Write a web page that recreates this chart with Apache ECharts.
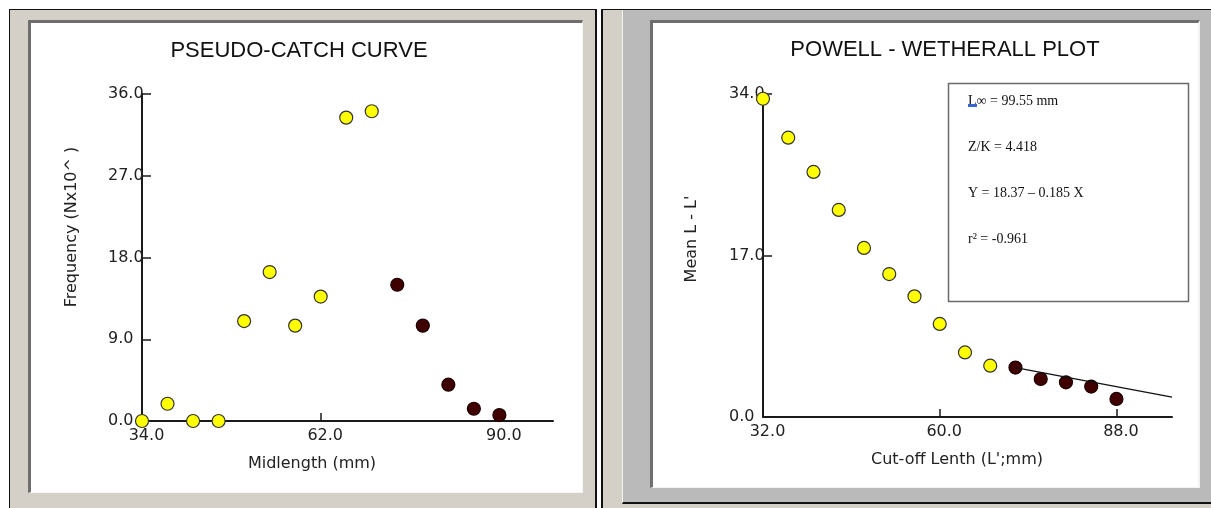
<!DOCTYPE html>
<html>
<head>
<meta charset="utf-8">
<title>Pseudo-catch curve and Powell-Wetherall plot</title>
<script src="https://cdn.jsdelivr.net/npm/echarts@6/dist/echarts.min.js"></script>
<style>
  html, body { margin: 0; padding: 0; background: #fff; width: 1211px; height: 508px; overflow: hidden; position: relative; }
  .box { position: absolute; box-sizing: border-box; }
  /* left window frame */
  #lp { left: 9px; top: 9px; width: 588px; height: 499px; background: #d4d0c8;
        border-left: 1px solid #111; border-top: 1px solid #111; border-right: 2px solid #111; }
  #lw { left: 28px; top: 20px; width: 555px; height: 473px; background: #fff;
        border-left: 3px solid #6e6e6e; border-top: 3px solid #6e6e6e;
        border-right: 1px solid #f6f6f6; border-bottom: 1px solid #f6f6f6; }
  /* right window frame */
  #rp { left: 601px; top: 9px; width: 610px; height: 499px; background: #d4d0c8;
        border-left: 2px solid #111; border-top: 1px solid #111; }
  #rg { left: 622px; top: 10px; width: 589px; height: 494px; background: #bababa;
        border-left: 1px solid #f2f2f2; border-bottom: 2px solid #111; }
  #rw { left: 650px; top: 20px; width: 550px; height: 468px; background: #fff;
        border-left: 3px solid #6e6e6e; border-top: 3px solid #6e6e6e;
        border-right: 2px solid #f2f2f2; border-bottom: 1px solid #f2f2f2; }
  #chart { position: absolute; left: 0; top: 0; width: 1211px; height: 508px; }
</style>
</head>
<body>
<div class="box" id="lp"></div>
<div class="box" id="lw"></div>
<div class="box" id="rp"></div>
<div class="box" id="rg"></div>
<div class="box" id="rw"></div>
<div id="chart"></div>
<script>
// Pseudo-catch curve: frequency by length class midpoint
const catchMidlength = [34, 38, 42, 46, 50, 54, 58, 62, 66, 70];
const catchFrequency = [0, 1.9, 0, 0, 11.0, 16.4, 10.5, 13.7, 33.4, 34.1];
// descending limb (used in the estimate)
const limbMidlength = [74, 78, 82, 86, 90];
const limbFrequency = [15.0, 10.5, 4.0, 1.35, 0.65];

// Powell-Wetherall: mean length above cut-off minus cut-off
const cutoffLength = [32, 36, 40, 44, 48, 52, 56, 60, 64, 68];
const meanDifference = [33.5, 29.4, 25.8, 21.8, 17.8, 15.05, 12.7, 9.8, 6.8, 5.4];
// points used in the regression
const fitCutoff = [72, 76, 80, 84, 88];
const fitMeanDifference = [5.2, 4.0, 3.65, 3.2, 1.9];
// regression line end points
const lineCutoff = [72, 96.8];
const lineMeanDifference = [5.2, 2.1];

// tick labels
const catchXTicks = [34, 62, 90];
const catchYTicks = [0, 9, 18, 27, 36];
const pwXTicks = [32, 60, 88];
const pwYTicks = [0, 17, 34];

// regression summary
const statLines = ['L\u221E = 99.55 mm', 'Z/K = 4.418', 'Y = 18.37 \u2013 0.185 X', 'r\u00B2 = -0.961'];

const zip = (xs, ys) => xs.map((x, i) => [x, ys[i]]);

const AXIS_FONT = 'DejaVu Sans';
const INK = '#1a1a1a';

function xAxisOf(gridIndex, min, max, ticks, name, shiftLeft) {
  return {
    type: 'value', gridIndex, min, max,
    axisLine: { show: true, onZero: false, lineStyle: { color: INK, width: 2 } },
    axisTick: { show: true, inside: true, length: 8, customValues: ticks, lineStyle: { color: INK, width: 1.5 } },
    axisLabel: { customValues: ticks, formatter: v => v.toFixed(1), margin: 7, padding: [0, 0, 0, 9],
                 fontFamily: AXIS_FONT, fontSize: 16, color: '#222' },
    splitLine: { show: false },
    name, nameLocation: 'middle', nameGap: 35,
    nameTextStyle: { fontFamily: AXIS_FONT, fontSize: 16, color: '#222', padding: [0, shiftLeft * 2, 0, 0] }
  };
}

function yAxisOf(gridIndex, min, max, ticks, name, shiftUp, gap) {
  return {
    type: 'value', gridIndex, min, max,
    axisLine: { show: true, onZero: false, lineStyle: { color: INK, width: 2 } },
    axisTick: { show: true, inside: true, length: 9, customValues: ticks, lineStyle: { color: INK, width: 1.5 } },
    axisLabel: { customValues: ticks, formatter: v => v.toFixed(1), margin: 34, align: 'left',
                 fontFamily: AXIS_FONT, fontSize: 16, color: '#222' },
    splitLine: { show: false },
    name, nameLocation: 'middle', nameGap: gap,
    nameTextStyle: { fontFamily: AXIS_FONT, fontSize: 16, color: '#222', padding: [0, 0, 0, shiftUp * 2] }
  };
}

const yellowDot = { color: '#ffff00', borderColor: '#333', borderWidth: 1.2, opacity: 1 };
const darkDot = { color: '#400000', borderColor: '#1a0000', borderWidth: 1.2, opacity: 1 };

const statTexts = statLines.map((t, i) => ({
  type: 'text', x: 968, y: 101.5 + i * 45.8,
  style: { text: t, font: '14px "Liberation Serif"', fill: '#111', verticalAlign: 'middle' },
  z: 11
}));

const chart = echarts.init(document.getElementById('chart'), null, { renderer: 'canvas' });
chart.setOption({
  backgroundColor: 'transparent',
  animation: false,
  title: [
    { text: 'PSEUDO-CATCH CURVE', left: 299, top: 40, textAlign: 'center', padding: 0,
      textStyle: { fontFamily: 'Liberation Sans', fontSize: 22, fontWeight: 'normal', color: '#111' } },
    { text: 'POWELL - WETHERALL PLOT', left: 945, top: 39, textAlign: 'center', padding: 0,
      textStyle: { fontFamily: 'Liberation Sans', fontSize: 22, fontWeight: 'normal', color: '#111' } }
  ],
  grid: [
    { left: 142, top: 94, width: 411, height: 327 },
    { left: 763, top: 94, width: 409, height: 323 }
  ],
  xAxis: [
    xAxisOf(0, 34, 98.4, catchXTicks, 'Midlength (mm)', 35.5),
    xAxisOf(1, 32, 96.8, pwXTicks, "Cut-off Lenth (L';mm)", 10.5)
  ],
  yAxis: [
    yAxisOf(0, 0, 36, catchYTicks, 'Frequency (Nx10^ )', 30.5, 62),
    yAxisOf(1, 0, 34, pwYTicks, "Mean L - L'", 16.5, 63)
  ],
  series: [
    { type: 'scatter', xAxisIndex: 0, yAxisIndex: 0, symbolSize: 13, clip: false,
      itemStyle: yellowDot, data: zip(catchMidlength, catchFrequency) },
    { type: 'scatter', xAxisIndex: 0, yAxisIndex: 0, symbolSize: 13, clip: false,
      itemStyle: darkDot, data: zip(limbMidlength, limbFrequency) },
    { type: 'line', xAxisIndex: 1, yAxisIndex: 1, showSymbol: false, symbol: 'none',
      lineStyle: { color: '#111', width: 1.3 }, data: zip(lineCutoff, lineMeanDifference) },
    { type: 'scatter', xAxisIndex: 1, yAxisIndex: 1, symbolSize: 13, clip: false,
      itemStyle: yellowDot, data: zip(cutoffLength, meanDifference) },
    { type: 'scatter', xAxisIndex: 1, yAxisIndex: 1, symbolSize: 13, clip: false,
      itemStyle: darkDot, data: zip(fitCutoff, fitMeanDifference) }
  ],
  graphic: [
    { type: 'rect', shape: { x: 948.5, y: 83.5, width: 240, height: 218 },
      style: { fill: '#fff', stroke: '#6a6a6a', lineWidth: 1.5 }, z: 10 },
    ...statTexts,
    { type: 'rect', shape: { x: 968, y: 104, width: 9, height: 3 }, style: { fill: '#3a66d0' }, z: 12 }
  ]
});
</script>
</body>
</html>
